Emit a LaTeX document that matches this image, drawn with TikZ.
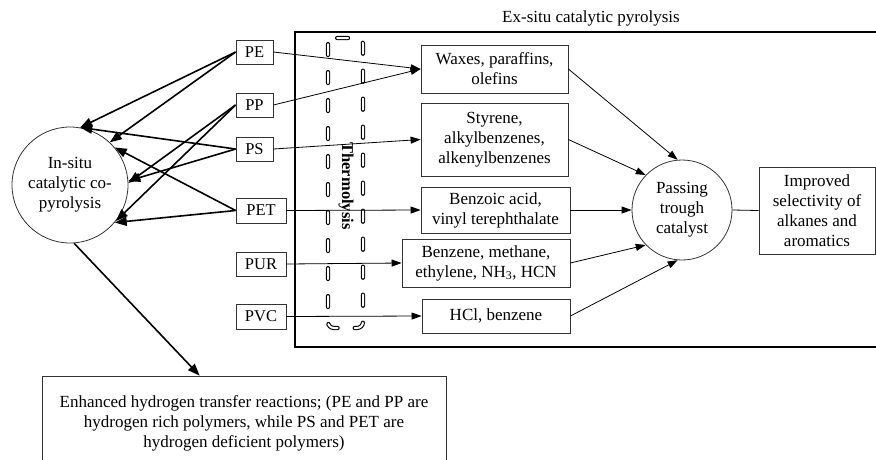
\documentclass[tikz,border=0pt]{standalone}
\usepackage{fontspec}
\setmainfont{Liberation Serif}
\usetikzlibrary{arrows.meta}
\begin{document}
\begin{tikzpicture}[x=1pt,y=-1pt,
  font=\fontsize{17}{20}\selectfont,
  box/.style={draw=black!80, line width=0.8pt, align=center, inner sep=0pt},
  pbox/.style={box, font=\fontsize{16.5}{20}\selectfont},
  circ/.style={draw=black!80, line width=0.8pt, circle, align=center, inner sep=0pt},
  thin arrow/.style={line width=0.8pt, -{Triangle[length=10pt,width=7pt]}},
  thick arrow/.style={line width=1.6pt, -{Triangle[length=12pt,width=9pt]}},
  thermo/.style={draw=black, line width=1.1pt, double=white, double distance=2pt,
    line cap=round, dash pattern=on 11pt off 17pt, rounded corners=6pt}]
\useasboundingbox (0,0) rectangle (876,459);
\clip (0,0) rectangle (876,459);

% big box
\draw[line width=2.8pt] (295,32) rectangle (890,347);
\node (title) at (591,18) {Ex-situ catalytic pyrolysis};

% thermolysis
\draw[thermo] (328,38) rectangle (363,328);
\node[rotate=-90, font=\fontsize{16.5}{20}\selectfont\bfseries] (thermolysis) at (346,186) {Thermolysis};

% polymers
\node[pbox, minimum width=37pt, minimum height=24pt] (PE)  at (254.5,52)  {PE};
\node[pbox, minimum width=37pt, minimum height=24pt] (PP)  at (254.5,105) {PP};
\node[pbox, minimum width=37pt, minimum height=24pt] (PS)  at (254.5,149) {PS};
\node[pbox, minimum width=50pt, minimum height=25pt] (PET) at (261,210.5) {PET};
\node[pbox, minimum width=50pt, minimum height=24pt] (PUR) at (261,264)   {PUR};
\node[pbox, minimum width=50pt, minimum height=25pt] (PVC) at (261,316.5) {PVC};

% products
\node[box, minimum width=147pt, minimum height=48pt] (waxes)   at (494.5,69)    {Waxes, paraffins,\\olefins};
\node[box, minimum width=147pt, minimum height=73pt] (styrene) at (494.5,139.5) {Styrene,\\alkylbenzenes,\\alkenylbenzenes};
\node[box, minimum width=149pt, minimum height=46pt] (benzoic) at (495.5,210)   {Benzoic acid,\\vinyl terephthalate};
\node[box, minimum width=168pt, minimum height=48pt] (benzene) at (486,263)     {Benzene, methane,\\ethylene, NH\textsubscript{3}, HCN};
\node[box, minimum width=148pt, minimum height=34pt] (hcl)     at (496,316)     {HCl, benzene};

% circles and outputs
\node[circ, minimum size=100pt] (passing) at (682,210) {Passing\\trough\\catalyst};
\node[box, minimum width=116pt, minimum height=87pt] (improved) at (817,210.5) {Improved\\selectivity of\\alkanes and\\aromatics};
\node[circ, minimum size=116pt] (insitu) at (70,185) {In-situ\\catalytic co-\\pyrolysis};
\node[box, minimum width=404pt, minimum height=94pt] (enhanced) at (244,423)
  {Enhanced hydrogen transfer reactions; (PE and PP are\\hydrogen rich polymers, while PS and PET are\\hydrogen deficient polymers)};

% polymer -> in-situ
\draw[thick arrow] (PE.west)  -- (insitu.80);
\draw[thick arrow] (PE.west)  -- (insitu.47);
\draw[thick arrow] (PS.west)  -- (insitu.80);
\draw[thick arrow] (PS.west)  -- (insitu.4);
\draw[thick arrow] (PP.west)  -- (insitu.2);
\draw[thick arrow] (PP.west)  -- (insitu.-38);
\draw[thick arrow] (PET.west) -- (insitu.40);
\draw[thick arrow] (PET.west) -- (insitu.-40);
\coordinate (enhtip) at ([xshift=158pt]enhanced.north west);
\draw[thick arrow] (insitu.-86) -- (enhtip);

% polymer -> products
\draw[thin arrow] (PE.east)  -- (waxes.west);
\draw[thin arrow] (PP.east)  -- (waxes.west);
\draw[thin arrow] (PS.east)  -- (styrene.west);
\draw[thin arrow] (PET.east) -- (benzoic.west);
\draw[thin arrow] (PUR.east) -- (benzene.west);
\draw[thin arrow] (PVC.east) -- (hcl.west);

% products -> passing
\draw[thin arrow] (waxes.east)   -- (passing.95);
\draw[thin arrow] (styrene.east) -- (passing.136);
\draw[thin arrow] (benzoic.east) -- (passing.180);
\draw[thin arrow] (benzene.east) -- (passing.224);
\draw[thin arrow] (hcl.east)     -- (passing.265);
\draw[line width=0.8pt] (passing.east) -- (improved.west);
\end{tikzpicture}
\end{document}
